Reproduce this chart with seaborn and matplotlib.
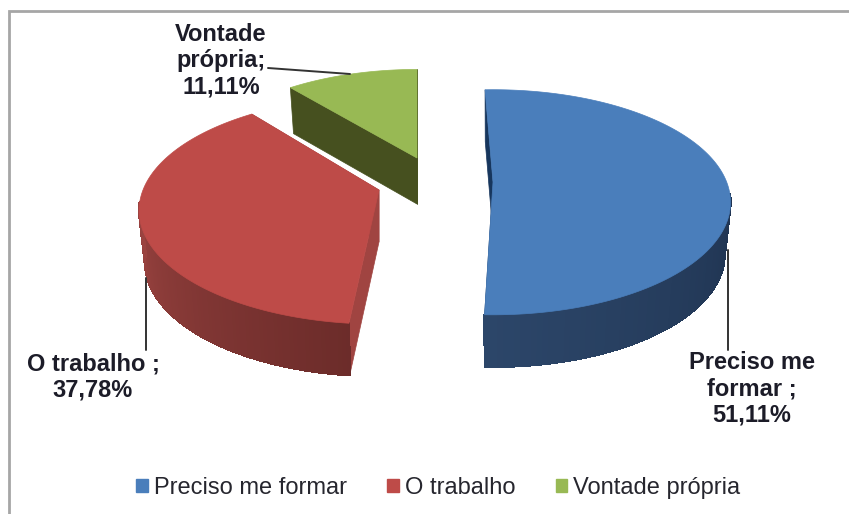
import numpy as np
import matplotlib
matplotlib.use("Agg")
import matplotlib.pyplot as plt
import seaborn as sns
from matplotlib.collections import PolyCollection
from matplotlib.patches import Patch, Polygon

# Data
categories = ["Preciso me formar", "O trabalho", "Vontade própria"]
shares = [51.11, 37.78, 11.11]
point_labels = ["Preciso me\nformar ;\n51,11%", "O trabalho ;\n37,78%", "Vontade\nprópria;\n11,11%"]

# Styles and layout (pixel space of the figure)
top_colors = ["#4a7ebb", "#be4b48", "#98b954"]
side_colors = [("#1f3350", "#2c4669"), ("#6c2c2a", "#9a4340"), ("#46501f", "#46501f")]
cut_colors = ["#17365d", "#a04441", "#46501f"]
apex = [(493, 182), (379, 190), (417, 158)]
radius_x = 236
radius_y = 110
radius_scale = [0.99, 1.0, 0.95]
persp = 0.18
depth = [52, 52, 46]
rotation = [2.3, -2, 0]
base_shrink = 0.975

sns.set_theme(style="white", font="Liberation Sans")
fig = plt.figure(figsize=(8.49, 5.14), dpi=100, facecolor="white")
ax = fig.add_axes([0, 0, 1, 1])
ax.set_xlim(0, 849)
ax.set_ylim(514, 0)
ax.axis("off")

# Chart frame: only its left and top edges fall inside the picture
ax.plot([9.5, 9.5, 849], [514, 11, 11], color="#a6a6a6", lw=2, solid_joinstyle="miter", zorder=1)


def project(theta, i):
    """Map a pie angle (degrees) to the tilted plane of slice i, with perspective."""
    t = np.radians(theta)
    u, v = np.cos(t), np.sin(t)
    s = radius_scale[i] / (1 + persp * v)
    return apex[i][0] + radius_x * u * s, apex[i][1] - radius_y * v * s


def hexrgb(c):
    return np.array(matplotlib.colors.to_rgb(c))


# Angular spans derived from the values, clockwise from 12 o'clock
spans = []
start = 90.0
for v in shares:
    sweep = v / sum(shares) * 360
    spans.append((start, start - sweep))
    start -= sweep

z = 3
for i in [2, 1, 0]:
    a0, a1 = spans[i][0] + rotation[i], spans[i][1] + rotation[i]
    th = np.linspace(a0, a1, 160)
    x, y = project(th, i)
    d = depth[i]
    ax_, ay_ = apex[i]
    xb = ax_ + (x - ax_) * base_shrink  # the lower rim sits slightly further away
    yb = y + d

    # flat cut faces
    for k in (0, -1):
        ax.add_patch(Polygon([(x[k], y[k]), (ax_, ay_), (ax_, ay_ + d), (xb[k], yb[k])],
                             closed=True, fc=cut_colors[i], ec=cut_colors[i], lw=0.5, zorder=z))
    # outer curved wall, shaded along the arc
    front = np.sin(np.radians(th)) < -0.1
    if front.any():
        segs, cols = [], []
        idx = np.where(front)[0]
        c0, c1 = hexrgb(side_colors[i][0]), hexrgb(side_colors[i][1])
        for n, k in enumerate(idx[:-1]):
            if idx[n + 1] != k + 1:
                continue
            segs.append([(x[k], y[k]), (x[k + 1], y[k + 1]), (xb[k + 1], yb[k + 1]), (xb[k], yb[k])])
            cols.append(c0 + (c1 - c0) * n / max(len(idx) - 2, 1))
        ax.add_collection(PolyCollection(segs, facecolors=cols, edgecolors=cols, linewidths=1.0,
                                         antialiaseds=False, zorder=z))
    # top face
    ax.add_patch(Polygon(np.r_[[(ax_, ay_)], np.c_[x, y]], closed=True,
                         fc=top_colors[i], ec=top_colors[i], lw=0.5, zorder=z + 1))
    z += 2

# Leader lines
leader_kw = dict(color="#333333", lw=1.4, zorder=20)
ax.plot([268, 350], [68, 74], **leader_kw)
ax.plot([146, 146], [278, 350], **leader_kw)
ax.plot([728, 728], [250, 350], **leader_kw)

# Point labels
label_kw = dict(ha="center", va="center", fontsize=17, fontweight="bold", color="#1c1c28",
                linespacing=1.18, zorder=21)
ax.text(752, 389, point_labels[0], **label_kw)
ax.text(93, 377, point_labels[1], **label_kw)
ax.text(221, 61, point_labels[2], **label_kw)

# Legend
handles = [Patch(fc=c, ec=c, label=n) for c, n in zip(top_colors, categories)]
ax.legend(handles=handles, loc="center", bbox_to_anchor=(438.5 / 849, 1 - 488 / 514), ncol=3,
          frameon=False, fontsize=17, handlelength=0.5, handleheight=0.5,
          handletextpad=0.25, columnspacing=1.7, labelcolor="#26262e", borderpad=0, borderaxespad=0)

fig.savefig("out.png", dpi=100, facecolor="white")
